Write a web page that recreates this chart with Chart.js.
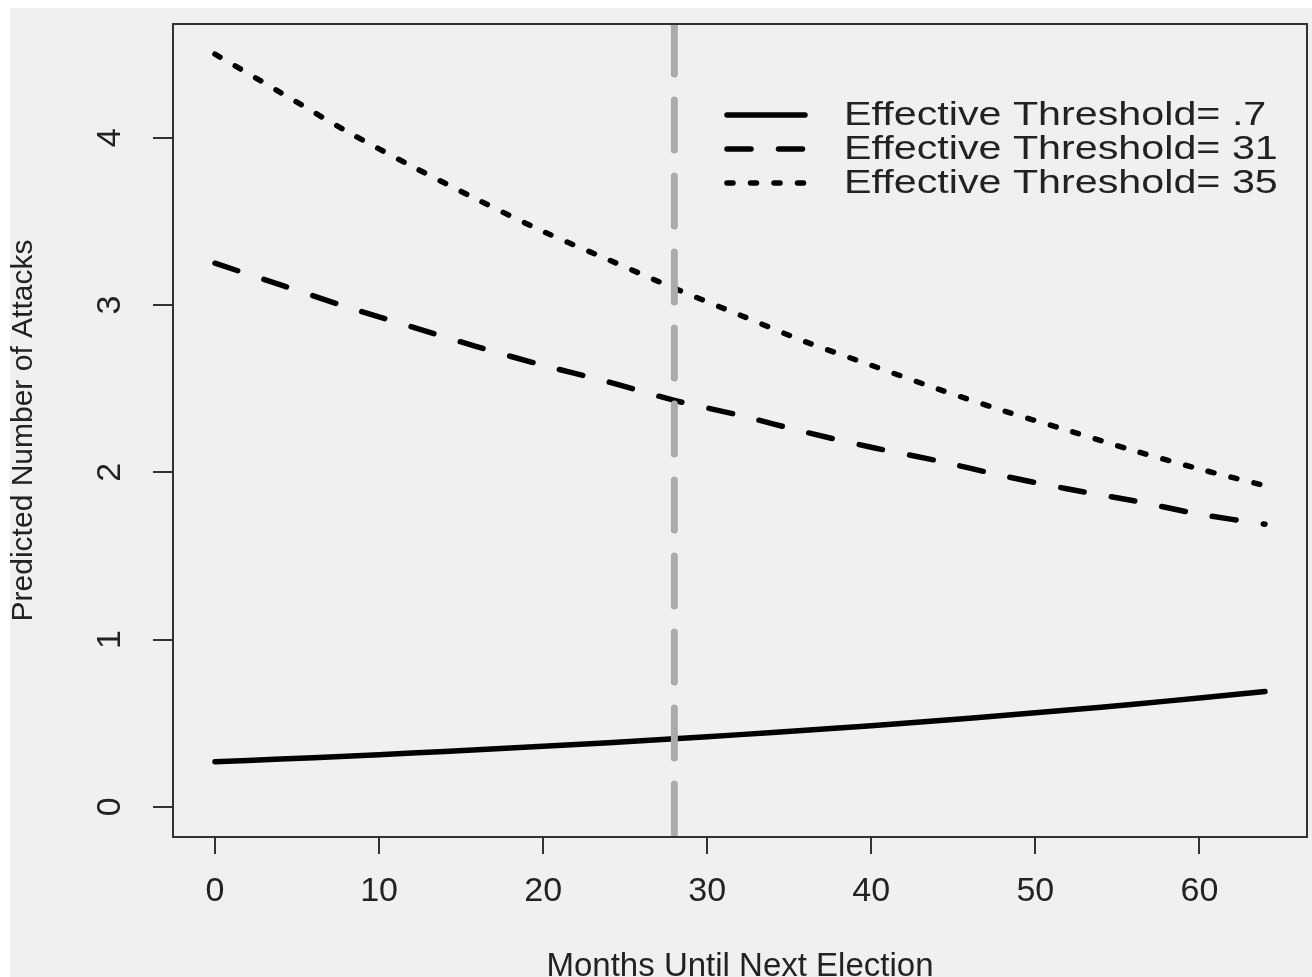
<!DOCTYPE html>
<html>
<head>
<meta charset="utf-8">
<script src="https://cdn.jsdelivr.net/npm/chart.js@4.4.1/dist/chart.umd.min.js"></script>
<style>
  html, body { margin: 0; padding: 0; background: #fff; }
</style>
</head>
<body>
<canvas id="chart" width="1312" height="977"></canvas>
<script>
// values
const months = [0, 4, 8, 12, 16, 20, 24, 28, 32, 36, 40, 44, 48, 52, 56, 60, 64];
const thresholdLow = [0.27, 0.286, 0.303, 0.322, 0.341, 0.362, 0.384, 0.407, 0.432, 0.458, 0.485, 0.515, 0.546, 0.579, 0.614, 0.651, 0.69];
const thresholdMid = [3.25, 3.12, 2.99, 2.87, 2.75, 2.64, 2.54, 2.43, 2.34, 2.24, 2.15, 2.07, 1.98, 1.90, 1.83, 1.75, 1.69];
const thresholdHigh = [4.50, 4.27, 4.04, 3.83, 3.63, 3.44, 3.27, 3.10, 2.94, 2.78, 2.64, 2.50, 2.37, 2.25, 2.13, 2.02, 1.92];
const seriesNames = ['Effective Threshold= .7', 'Effective Threshold= 31', 'Effective Threshold= 35'];
const electionMonth = 28;
const xTicks = [0, 10, 20, 30, 40, 50, 60];
const yTicks = [0, 1, 2, 3, 4];
const xRange = [-2.56, 66.56];
const yRange = [-0.18, 4.68];

const FONT = '"Liberation Sans", Arial, sans-serif';
const INK = '#222';
const dashes = [[], [24, 27.5], [6, 17.5]];

const toPoints = (ys) => months.map((m, i) => ({ x: m, y: ys[i] }));

const lineSet = (label, ys, dash) => ({
  label,
  data: toPoints(ys),
  borderColor: '#000',
  borderWidth: 5.5,
  borderDash: dash,
  borderCapStyle: 'round',
  pointRadius: 0,
  tension: 0.3,
  fill: false,
  clip: 0
});

const background = {
  id: 'background',
  beforeDraw(chart) {
    const ctx = chart.ctx;
    ctx.save();
    ctx.fillStyle = '#fff';
    ctx.fillRect(0, 0, chart.width, chart.height);
    ctx.fillStyle = '#f0f0f0';
    ctx.fillRect(10, 8, chart.width - 10, chart.height - 8);
    ctx.restore();
  }
};

const frame = {
  id: 'frame',
  afterDraw(chart) {
    const { ctx, chartArea: a } = chart;
    ctx.save();
    ctx.strokeStyle = '#333';
    ctx.lineWidth = 2;
    ctx.strokeRect(a.left, a.top, a.right - a.left, a.bottom - a.top);

    // y tick labels, rotated like R's default axis
    const ys = chart.scales.y;
    ctx.font = '34px ' + FONT;
    ctx.fillStyle = INK;
    ctx.textAlign = 'center';
    ctx.textBaseline = 'middle';
    yTicks.forEach(v => {
      ctx.save();
      ctx.translate(111, ys.getPixelForValue(v));
      ctx.rotate(-Math.PI / 2);
      ctx.fillText(String(v), 0, 0);
      ctx.restore();
    });

    // legend
    const rows = [115, 149, 183];
    seriesNames.forEach((name, i) => {
      ctx.save();
      ctx.strokeStyle = '#000';
      ctx.lineWidth = 5.5;
      ctx.lineCap = 'round';
      ctx.setLineDash(dashes[i]);
      ctx.beginPath();
      ctx.moveTo(727, rows[i]);
      ctx.lineTo(805, rows[i]);
      ctx.stroke();
      ctx.restore();

      ctx.save();
      ctx.translate(844, rows[i]);
      ctx.scale(1.25, 1);
      ctx.font = '33px ' + FONT;
      ctx.fillStyle = INK;
      ctx.textAlign = 'left';
      ctx.textBaseline = 'middle';
      ctx.fillText(name, 0, 1);
      ctx.restore();
    });
    ctx.restore();
  }
};

new Chart(document.getElementById('chart'), {
  type: 'line',
  data: {
    datasets: [
      {
        label: 'election',
        data: [{ x: electionMonth, y: yRange[1] }, { x: electionMonth, y: yRange[0] }],
        borderColor: '#ababab',
        borderWidth: 7,
        borderDash: [50, 26],
        borderCapStyle: 'round',
        pointRadius: 0,
        order: -1,
        clip: 0
      },
      lineSet(seriesNames[0], thresholdLow, dashes[0]),
      lineSet(seriesNames[1], thresholdMid, dashes[1]),
      lineSet(seriesNames[2], thresholdHigh, dashes[2])
    ]
  },
  options: {
    responsive: false,
    animation: false,
    layout: { padding: { left: 0, right: 5, top: 24, bottom: 0 } },
    plugins: {
      legend: { display: false },
      tooltip: { enabled: false }
    },
    scales: {
      x: {
        type: 'linear',
        min: xRange[0],
        max: xRange[1],
        afterBuildTicks: (s) => { s.ticks = xTicks.map(v => ({ value: v })); },
        afterFit: (s) => { s.height = 140; },
        border: { display: false },
        grid: { drawOnChartArea: false, drawTicks: true, tickLength: 17, color: '#333', lineWidth: 2 },
        ticks: { color: INK, font: { family: FONT, size: 34 }, padding: 17, maxRotation: 0 },
        title: {
          display: true,
          text: 'Months Until Next Election',
          color: INK,
          font: { family: FONT, size: 33, lineHeight: 0.64 },
          padding: { top: 0, bottom: 0 }
        }
      },
      y: {
        type: 'linear',
        min: yRange[0],
        max: yRange[1],
        afterBuildTicks: (s) => { s.ticks = yTicks.map(v => ({ value: v })); },
        afterFit: (s) => { s.width = 173; },
        border: { display: false },
        grid: { drawOnChartArea: false, drawTicks: true, tickLength: 20, color: '#333', lineWidth: 2 },
        ticks: { display: false },
        title: {
          display: true,
          text: 'Predicted Number of Attacks',
          color: INK,
          font: { family: FONT, size: 30 },
          padding: { top: 6, bottom: 0 }
        }
      }
    }
  },
  plugins: [background, frame]
});
</script>
</body>
</html>
